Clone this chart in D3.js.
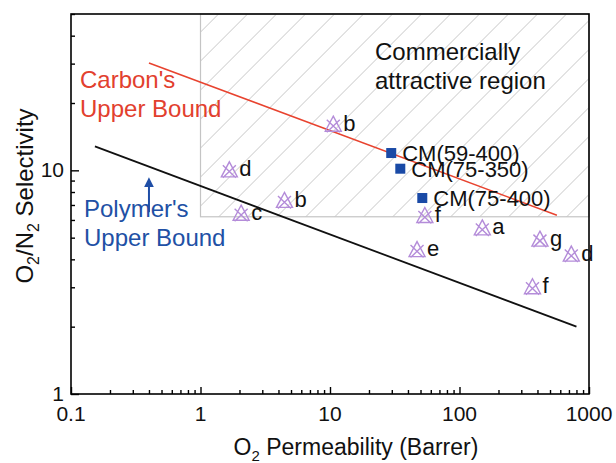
<!DOCTYPE html>
<html>
<head>
<meta charset="utf-8">
<script src="https://cdn.jsdelivr.net/npm/d3@7"></script>
<style>
  body { margin: 0; background: #fff; }
  text { font-family: "Liberation Sans", Arial, sans-serif; }
</style>
</head>
<body>
<svg id="chart" width="616" height="463"></svg>
<script>
// reference membranes (purple markers)
var refLabels = ["b", "d", "b", "c", "f", "a", "e", "g", "d", "f"];
var refPerm = [10.6, 1.67, 4.45, 2.06, 54, 150, 47, 418, 730, 366];
var refSel = [16.0, 10.0, 7.3, 6.4, 6.25, 5.5, 4.4, 4.9, 4.2, 3.0];

// carbon membranes (blue squares)
var cmLabels = ["CM(59-400)", "CM(75-350)", "CM(75-400)"];
var cmPerm = [29.7, 34.9, 51.6];
var cmSel = [11.95, 10.17, 7.52];

// upper bound lines [perm, sel]
var carbonBound = [[0.4, 30.2], [565, 6.3]];
var polymerBound = [[0.153, 12.8], [800, 2.0]];
var arrowSel = [6.5, 9.7];
var arrowPerm = 0.4;

// commercially attractive region
var regionPerm = [1, 1000];
var regionSel = [6.2, 50];

var xTicks = [0.1, 1, 10, 100, 1000];
var yTicks = [1, 10];

var svg = d3.select("#chart");
var plotL = 71, plotR = 589, plotT = 14, plotB = 394;

var x = d3.scaleLog().domain([0.1, 1000]).range([plotL, plotR]);
var y = d3.scaleLog().domain([1, 50]).range([plotB, plotT]);

// hatch pattern
var defs = svg.append("defs");
var pat = defs.append("pattern")
  .attr("id", "hatch")
  .attr("patternUnits", "userSpaceOnUse")
  .attr("width", 20.5).attr("height", 20.5)
  .attr("patternTransform", "rotate(45)");
pat.append("line")
  .attr("x1", 0).attr("y1", 0).attr("x2", 0).attr("y2", 20.5)
  .attr("stroke", "#c2c2c2").attr("stroke-width", 1.4);

defs.append("marker")
  .attr("id", "arrowhead")
  .attr("viewBox", "0 0 10 10")
  .attr("refX", 7).attr("refY", 5)
  .attr("markerWidth", 10).attr("markerHeight", 10)
  .attr("markerUnits", "userSpaceOnUse")
  .attr("orient", "auto")
  .append("path").attr("d", "M0,0L10,5L0,10z").attr("fill", "#1f4ea6");

svg.append("rect")
  .attr("x", x(regionPerm[0])).attr("y", y(regionSel[1]))
  .attr("width", x(regionPerm[1]) - x(regionPerm[0]))
  .attr("height", y(regionSel[0]) - y(regionSel[1]))
  .attr("fill", "url(#hatch)")
  .attr("stroke", "#c4c4c4").attr("stroke-width", 1.2);

// axes ticks (inward)
function minorOf(ticks, majors) {
  return ticks.filter(function(t) { return majors.indexOf(t) < 0; });
}
var xMinor = minorOf(x.ticks(), xTicks);
var yMinor = minorOf(y.ticks(), yTicks);

var gx = svg.append("g").attr("transform", "translate(0," + plotB + ")");
gx.call(d3.axisBottom(x).tickValues(xTicks).tickSize(-7).tickFormat(""));
gx.append("g").call(d3.axisBottom(x).tickValues(xMinor).tickSize(-4).tickFormat(""));
gx.selectAll("path.domain").remove();
gx.selectAll("line").attr("stroke", "#000").attr("stroke-width", 1.4);

var gy = svg.append("g").attr("transform", "translate(" + plotL + ",0)");
gy.call(d3.axisLeft(y).tickValues(yTicks).tickSize(-8).tickFormat(""));
gy.append("g").call(d3.axisLeft(y).tickValues(yMinor).tickSize(-4).tickFormat(""));
gy.selectAll("path.domain").remove();
gy.selectAll("line").attr("stroke", "#000").attr("stroke-width", 1.4);

// tick labels
svg.selectAll("text.xt").data(xTicks).enter().append("text")
  .attr("class", "xt")
  .attr("x", function(d) { return x(d); })
  .attr("y", 421)
  .attr("text-anchor", "middle")
  .attr("font-size", 21)
  .attr("fill", "#111")
  .text(function(d) { return d; });

svg.selectAll("text.yt").data(yTicks).enter().append("text")
  .attr("class", "yt")
  .attr("x", 64)
  .attr("y", function(d) { return y(d) + 7; })
  .attr("text-anchor", "end")
  .attr("font-size", 21)
  .attr("fill", "#111")
  .text(function(d) { return d; });

// frame
svg.append("rect")
  .attr("x", plotL).attr("y", plotT)
  .attr("width", plotR - plotL).attr("height", plotB - plotT)
  .attr("fill", "none").attr("stroke", "#000").attr("stroke-width", 1.6);

// bounds
var line = d3.line().x(function(d) { return x(d[0]); }).y(function(d) { return y(d[1]); });
svg.append("path").datum(polymerBound).attr("d", line)
  .attr("fill", "none").attr("stroke", "#111").attr("stroke-width", 1.8);
svg.append("path").datum(carbonBound).attr("d", line)
  .attr("fill", "none").attr("stroke", "#e8432f").attr("stroke-width", 1.5);

// reference markers
var refData = refLabels.map(function(l, i) { return { label: l, p: refPerm[i], s: refSel[i] }; });
var mk = svg.selectAll("g.ref").data(refData).enter().append("g")
  .attr("class", "ref")
  .attr("transform", function(d) { return "translate(" + x(d.p) + "," + y(d.s) + ")"; });
mk.append("path")
  .attr("d", "M0,-8.5L8,6.5L-8,6.5Z M-6.5,-5L6.5,7.5 M6.5,-5L-6.5,7.5")
  .attr("fill", "none").attr("stroke", "#b48cd9").attr("stroke-width", 1.4);
mk.append("text")
  .attr("x", 10).attr("y", 6)
  .attr("font-size", 22)
  .attr("fill", "#111")
  .text(function(d) { return d.label; });

// carbon membranes
var cmData = cmLabels.map(function(l, i) { return { label: l, p: cmPerm[i], s: cmSel[i] }; });
var cm = svg.selectAll("g.cm").data(cmData).enter().append("g")
  .attr("class", "cm")
  .attr("transform", function(d) { return "translate(" + x(d.p) + "," + y(d.s) + ")"; });
cm.append("rect").attr("x", -5).attr("y", -5).attr("width", 10).attr("height", 10)
  .attr("fill", "#1a4aa6");
cm.append("text")
  .attr("x", 11).attr("y", 8)
  .attr("font-size", 22)
  .attr("fill", "#111")
  .text(function(d) { return d.label; });

// annotations
function twoLines(xp, y1, y2, a, b, color) {
  svg.append("text").attr("x", xp).attr("y", y1).attr("font-size", 24).attr("fill", color).text(a);
  svg.append("text").attr("x", xp).attr("y", y2).attr("font-size", 24).attr("fill", color).text(b);
}
twoLines(80, 88, 117, "Carbon's", "Upper Bound", "#e2402e");
twoLines(84, 217, 246, "Polymer's", "Upper Bound", "#2150a5");
twoLines(375, 60, 89, "Commercially", "attractive region", "#111");

// arrow pointing up from the polymer label
svg.append("line")
  .attr("x1", x(arrowPerm)).attr("x2", x(arrowPerm))
  .attr("y1", y(arrowSel[0])).attr("y2", y(arrowSel[1]) + 7)
  .attr("stroke", "#1f4ea6").attr("stroke-width", 2)
  .attr("marker-end", "url(#arrowhead)");

// axis titles
var xt = svg.append("text").attr("x", 356).attr("y", 455)
  .attr("text-anchor", "middle").attr("font-size", 23).attr("fill", "#111");
xt.append("tspan").text("O");
xt.append("tspan").attr("font-size", 15).attr("dy", 6).text("2");
xt.append("tspan").attr("dy", -6).text(" Permeability (Barrer)");

var yt = svg.append("text")
  .attr("transform", "translate(33,196) rotate(-90)")
  .attr("text-anchor", "middle").attr("font-size", 24).attr("fill", "#111");
yt.append("tspan").text("O");
yt.append("tspan").attr("font-size", 16).attr("dy", 6).text("2");
yt.append("tspan").attr("dy", -6).text("/N");
yt.append("tspan").attr("font-size", 16).attr("dy", 6).text("2");
yt.append("tspan").attr("dy", -6).text(" Selectivity");
</script>
</body>
</html>
